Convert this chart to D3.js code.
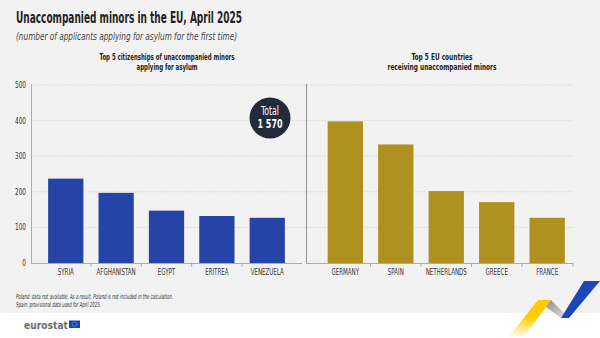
<!DOCTYPE html>
<html>
<head>
<meta charset="utf-8">
<title>Unaccompanied minors in the EU, April 2025</title>
<script src="https://cdn.jsdelivr.net/npm/d3@7"></script>
<style>
  body { margin: 0; background: #fff; }
  svg { display: block; font-family: "DejaVu Sans Condensed", "Liberation Sans", sans-serif; }
  .grid line { stroke: #d4d4d4; stroke-dasharray: 1.5 1.5; stroke-width: 0.8; }
  .ytick { font-size: 8.5px; fill: #333; }
  .xlab { font-size: 8.5px; fill: #333; }
  .ptitle { font-size: 9px; font-weight: bold; fill: #222; }
</style>
</head>
<body>
<script>
// citizenships of unaccompanied minors
var citizenships = ["SYRIA", "AFGHANISTAN", "EGYPT", "ERITREA", "VENEZUELA"];
var citizenValues = [237, 197, 147, 132, 127];

// receiving EU countries
var countries = ["GERMANY", "SPAIN", "NETHERLANDS", "GREECE", "FRANCE"];
var countryValues = [398, 333, 202, 171, 127];

var yTicks = [0, 100, 200, 300, 400, 500];
var total = "1 570";

var width = 600, height = 338;

// narrow the glyphs to imitate a condensed face
function squeeze(sel, k) {
  sel.each(function() {
    var w = this.getComputedTextLength();
    d3.select(this).attr("textLength", w * k).attr("lengthAdjust", "spacingAndGlyphs");
  });
}
function fit(sel, w) {
  sel.attr("textLength", w).attr("lengthAdjust", "spacingAndGlyphs");
}

var svg = d3.select("body").append("svg")
    .attr("width", width)
    .attr("height", height);

// grey panel behind the chart, white strip for the logo
svg.append("rect").attr("width", width).attr("height", 313).attr("fill", "#f2f2f2");

svg.append("text")
    .attr("x", 16).attr("y", 23)
    .style("font-size", "15px").style("font-weight", "bold").attr("fill", "#222")
    .text("Unaccompanied minors in the EU, April 2025")
    .call(fit, 226);

svg.append("text")
    .attr("x", 16).attr("y", 40)
    .style("font-size", "10px").style("font-style", "italic").attr("fill", "#444")
    .text("(number of applicants applying for asylum for the first time)")
    .call(fit, 221);

var y = d3.scaleLinear().domain([0, 500]).range([263, 85]);

var xLeft = d3.scaleBand().domain(citizenships).range([31, 302])
    .paddingInner(0.3).paddingOuter(0.34);
var xRight = d3.scaleBand().domain(countries).range([310.5, 582])
    .paddingInner(0.3).paddingOuter(0.34);

// gridlines across both panels
svg.append("g").attr("class", "grid")
  .selectAll("line")
  .data(yTicks.slice(1))
  .enter().append("line")
    .attr("x1", 31).attr("x2", 573)
    .attr("y1", function(d) { return y(d); })
    .attr("y2", function(d) { return y(d); });

svg.append("g")
  .selectAll("text")
  .data(yTicks)
  .enter().append("text")
    .attr("class", "ytick")
    .attr("x", 26).attr("y", function(d) { return y(d) + 3; })
    .attr("text-anchor", "end")
    .text(function(d) { return d; })
    .call(squeeze, 0.75);

function panel(x, cats, vals, color, titleLines, titleWidths, cx, axisFrom, axisTo, endTick) {
  var g = svg.append("g");
  g.selectAll("rect")
    .data(vals)
    .enter().append("rect")
      .attr("x", function(d, i) { return x(cats[i]); })
      .attr("width", x.bandwidth())
      .attr("y", function(d) { return y(d); })
      .attr("height", function(d) { return y(0) - y(d); })
      .attr("fill", color);

  g.append("line")
    .attr("x1", axisFrom).attr("x2", axisTo)
    .attr("y1", y(0) + 0.5).attr("y2", y(0) + 0.5)
    .attr("stroke", "#999").attr("stroke-width", 0.8);

  // ticks sit between the bars
  var ticks = cats.slice(1).map(function(c) { return x(c) - x.step() * x.paddingInner() / 2; });
  if (endTick) ticks.push(axisTo);
  g.selectAll(".tk")
    .data(ticks)
    .enter().append("line")
      .attr("x1", function(d) { return d; }).attr("x2", function(d) { return d; })
      .attr("y1", y(0)).attr("y2", y(0) + 4)
      .attr("stroke", "#999").attr("stroke-width", 0.8);

  g.selectAll(".xlab")
    .data(cats)
    .enter().append("text")
      .attr("class", "xlab")
      .attr("x", function(d) { return x(d) + x.bandwidth() / 2; })
      .attr("y", 275)
      .attr("text-anchor", "middle")
      .text(function(d) { return d; })
      .call(squeeze, 0.72);

  g.selectAll(".ptitle")
    .data(titleLines)
    .enter().append("text")
      .attr("class", "ptitle")
      .attr("x", cx)
      .attr("y", function(d, i) { return 60 + i * 10; })
      .attr("text-anchor", "middle")
      .attr("textLength", function(d, i) { return titleWidths[i]; })
      .attr("lengthAdjust", "spacingAndGlyphs")
      .text(function(d) { return d; });
}

panel(xLeft, citizenships, citizenValues, "#2644a7",
  ["Top 5 citizenships of unaccompanied minors", "applying for asylum"], [135, 61], 167, 31, 302, false);
panel(xRight, countries, countryValues, "#b09120",
  ["Top 5 EU countries", "receiving unaccompanied minors"], [61, 109], 442, 306, 573, true);

// value axis and panel divider
svg.append("line").attr("x1", 31.5).attr("x2", 31.5).attr("y1", 84).attr("y2", y(0))
    .attr("stroke", "#999").attr("stroke-width", 0.8);
svg.append("line").attr("x1", 306.5).attr("x2", 306.5).attr("y1", 84).attr("y2", y(0))
    .attr("stroke", "#777").attr("stroke-width", 0.8);

// total badge
var badge = svg.append("g").attr("transform", "translate(270,118)");
badge.append("circle").attr("r", 20.5).attr("fill", "#232a3a");
badge.append("text").attr("y", -3).attr("text-anchor", "middle")
    .attr("fill", "#fff").style("font-size", "11.5px").text("Total")
    .call(squeeze, 0.75);
badge.append("text").attr("y", 10).attr("text-anchor", "middle")
    .attr("fill", "#fff").style("font-size", "12px").style("font-weight", "bold").text(total)
    .call(fit, 25);

// footnotes
var notes = ["Poland: data not available. As a result, Poland is not included in the calculation.",
             "Spain: provisional data used for April 2025."];
var noteWidths = [157, 85];
svg.selectAll(".note")
  .data(notes)
  .enter().append("text")
    .attr("x", 16).attr("y", function(d, i) { return 299 + i * 8; })
    .style("font-size", "7px").style("font-style", "italic").attr("fill", "#333")
    .attr("textLength", function(d, i) { return noteWidths[i]; })
    .attr("lengthAdjust", "spacingAndGlyphs")
    .text(function(d) { return d; });

// logo
svg.append("text")
    .attr("x", 24).attr("y", 329)
    .style("font-family", "'DejaVu Sans', sans-serif")
    .style("font-size", "11px").style("font-weight", "bold").attr("fill", "#6b6b6b")
    .text("eurostat")
    .call(fit, 44);
var flag = svg.append("g").attr("transform", "translate(69,320.5)");
flag.append("rect").attr("width", 11).attr("height", 7.5).attr("fill", "#0e47cb");
flag.append("circle").attr("cx", 5.5).attr("cy", 3.75).attr("r", 2.2)
    .attr("fill", "none").attr("stroke", "#ffd617").attr("stroke-width", 0.7).attr("stroke-dasharray", "0.6 0.6");

// corner ribbon
var defs = svg.append("defs");
var grad = defs.append("linearGradient").attr("id", "yfade")
    .attr("x1", 0).attr("y1", 0).attr("x2", 0).attr("y2", 1);
grad.append("stop").attr("offset", "0.45").attr("stop-color", "#ffcc00");
grad.append("stop").attr("offset", "1").attr("stop-color", "#ffcc00").attr("stop-opacity", 0);
var ggrad = defs.append("linearGradient").attr("id", "gfold")
    .attr("x1", 0).attr("y1", 0).attr("x2", 1).attr("y2", 1);
ggrad.append("stop").attr("offset", "0").attr("stop-color", "#8c8c8c");
ggrad.append("stop").attr("offset", "1").attr("stop-color", "#e6e6e6");

var line = d3.line();
svg.append("path").attr("d", line([[538, 300], [551, 300], [523, 338], [508, 338]]) + "Z")
    .attr("fill", "url(#yfade)");
svg.append("path").attr("d", line([[551, 300], [569, 318], [561, 318], [546, 307]]) + "Z")
    .attr("fill", "url(#gfold)");
svg.append("path").attr("d", line([[561, 318], [569, 318], [600, 281], [584, 281]]) + "Z")
    .attr("fill", "#1d46b8");
</script>
</body>
</html>
